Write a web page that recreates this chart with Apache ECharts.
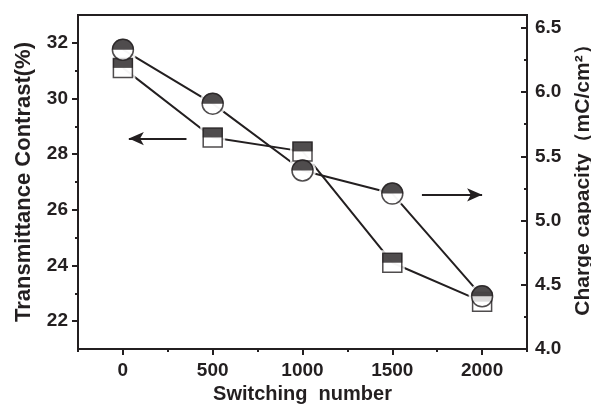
<!DOCTYPE html>
<html>
<head>
<meta charset="utf-8">
<script src="https://cdn.jsdelivr.net/npm/echarts@6/dist/echarts.min.js"></script>
<style>
  html, body { margin: 0; padding: 0; background: #fff; }
  #chart { width: 591px; height: 405px; }
</style>
</head>
<body>
<div id="chart"></div>
<script>
// Switching cycles and the two measured quantities
const switching = [0, 500, 1000, 1500, 2000];
const contrast = [31.1, 28.6, 28.1, 24.1, 22.7];      // Transmittance Contrast (%)
const capacity = [6.33, 5.91, 5.39, 5.21, 4.41];      // Charge capacity (mC/cm2)

// Tick values
const xTicks = [0, 500, 1000, 1500, 2000];
const xMinorTicks = [-250, 250, 750, 1250, 1750, 2250];
const contrastTicks = [22, 24, 26, 28, 30, 32];
const contrastMinorTicks = [23, 25, 27, 29, 31];
const capacityTicks = [4.0, 4.5, 5.0, 5.5, 6.0, 6.5];
const capacityMinorTicks = [4.25, 4.75, 5.25, 5.75, 6.25];

// Arrows telling which axis each curve belongs to (data space)
const contrastArrow = [[33, 28.56], [354, 28.56]];
const capacityArrow = [[1665, 5.2], [2000, 5.2]];

const INK = '#231f20';
const FONT = 'Liberation Sans';
const SQ = 19, CI = 21;

const contrastPts = switching.map((x, i) => [x, contrast[i]]);
const capacityPts = switching.map((x, i) => [x, capacity[i]]);

const tickFont = { color: INK, fontFamily: FONT, fontWeight: 'bold', fontSize: 19 };
const titleFont = { color: INK, fontFamily: FONT, fontWeight: 'bold', fontSize: 22 };
const axisLine = { show: true, onZero: false, lineStyle: { color: INK, width: 2 } };

const chart = echarts.init(document.getElementById('chart'), null, { renderer: 'canvas' });

chart.setOption({
  animation: false,
  backgroundColor: '#fff',
  grid: {
    left: 78, right: 64, top: 15, bottom: 56,
    outerBoundsMode: 'none', containLabel: false,
    show: true, borderColor: INK, borderWidth: 2, backgroundColor: 'transparent'
  },
  xAxis: [
    {
      type: 'value', min: -250, max: 2250, position: 'bottom',
      name: 'Switching  number', nameLocation: 'middle', nameGap: 34,
      nameTextStyle: Object.assign({}, titleFont, { fontSize: 20 }),
      axisLine: axisLine,
      axisTick: { customValues: xTicks, length: 6, lineStyle: { color: INK, width: 2 } },
      axisLabel: Object.assign({ customValues: xTicks, margin: 12, formatter: v => String(v) }, tickFont),
      splitLine: { show: false }
    },
    {
      type: 'value', min: -250, max: 2250, position: 'bottom',
      axisLine: { show: false, onZero: false },
      axisTick: { customValues: xMinorTicks, length: 3, lineStyle: { color: INK, width: 2 } },
      axisLabel: { show: false },
      splitLine: { show: false }
    }
  ],
  yAxis: [
    {
      type: 'value', min: 21, max: 33, position: 'left',
      name: 'Transmittance Contrast(%)', nameLocation: 'middle', nameGap: 43,
      nameTextStyle: titleFont,
      axisLine: axisLine,
      axisTick: { show: true, customValues: contrastTicks, length: 6, lineStyle: { color: INK, width: 2 } },
      axisLabel: Object.assign({ customValues: contrastTicks, margin: 10 }, tickFont),
      splitLine: { show: false }
    },
    {
      type: 'value', min: 4.0, max: 6.6, position: 'right',
      name: 'Charge capacity（mC/cm²）', nameLocation: 'middle', nameGap: 41,
      nameTextStyle: Object.assign({}, titleFont, { fontSize: 21, padding: [0, 0, 0, 14] }),
      axisLine: axisLine,
      axisTick: { show: true, inside: true, customValues: capacityTicks, length: 6, lineStyle: { color: INK, width: 2 } },
      axisLabel: Object.assign({ customValues: capacityTicks, margin: 8, formatter: v => v.toFixed(1) }, tickFont),
      splitLine: { show: false }
    },
    {
      type: 'value', min: 21, max: 33, position: 'left',
      axisLine: { show: false, onZero: false },
      axisTick: { show: true, customValues: contrastMinorTicks, length: 3, lineStyle: { color: INK, width: 2 } },
      axisLabel: { show: false },
      splitLine: { show: false }
    },
    {
      type: 'value', min: 4.0, max: 6.6, position: 'right',
      axisLine: { show: false, onZero: false },
      axisTick: { show: true, inside: true, customValues: capacityMinorTicks, length: 3, lineStyle: { color: INK, width: 2 } },
      axisLabel: { show: false },
      splitLine: { show: false }
    }
  ],
  series: [
    // connecting lines
    {
      type: 'line', xAxisIndex: 0, yAxisIndex: 0, data: contrastPts,
      symbol: 'none', z: 2, lineStyle: { color: INK, width: 2 },
      markLine: {
        silent: true, symbol: ['arrow', 'none'], symbolSize: [10, 15],
        label: { show: false }, lineStyle: { color: INK, width: 2, type: 'solid' },
        data: [[{ coord: contrastArrow[0] }, { coord: contrastArrow[1] }]]
      }
    },
    {
      type: 'line', xAxisIndex: 0, yAxisIndex: 1, data: capacityPts,
      symbol: 'none', z: 2, lineStyle: { color: INK, width: 2 },
      markLine: {
        silent: true, symbol: ['none', 'arrow'], symbolSize: [10, 15],
        label: { show: false }, lineStyle: { color: INK, width: 2, type: 'solid' },
        data: [[{ coord: capacityArrow[0] }, { coord: capacityArrow[1] }]]
      }
    },
    // white halos leaving a small gap between line ends and markers
    {
      type: 'scatter', xAxisIndex: 0, yAxisIndex: 0, data: contrastPts, z: 3, silent: true,
      symbol: 'rect', symbolSize: SQ + 6, itemStyle: { color: '#fff' }
    },
    {
      type: 'scatter', xAxisIndex: 0, yAxisIndex: 1, data: capacityPts, z: 3, silent: true,
      symbol: 'circle', symbolSize: CI + 6, itemStyle: { color: '#fff' }
    },
    // half-filled squares
    {
      type: 'scatter', xAxisIndex: 0, yAxisIndex: 0, data: contrastPts, z: 4, silent: true,
      symbol: 'rect', symbolSize: SQ, itemStyle: { color: '#fff', borderColor: INK, borderWidth: 1.5 }
    },
    {
      type: 'scatter', xAxisIndex: 0, yAxisIndex: 0, data: contrastPts, z: 5, silent: true,
      symbol: 'rect', symbolSize: [SQ + 1, SQ / 2], symbolOffset: [0, -SQ / 4], itemStyle: { color: INK }
    },
    // half-filled circles
    {
      type: 'scatter', xAxisIndex: 0, yAxisIndex: 1, data: capacityPts, z: 6, silent: true,
      symbol: 'circle', symbolSize: CI, itemStyle: { color: '#fff', borderColor: INK, borderWidth: 1.5 }
    },
    {
      type: 'scatter', xAxisIndex: 0, yAxisIndex: 1, data: capacityPts, z: 7, silent: true,
      symbol: 'path://M0,50 A50,50 0 0 1 100,50 Z', symbolKeepAspect: false,
      symbolSize: [CI + 1, (CI + 1) / 2], symbolOffset: [0, -(CI + 1) / 4], itemStyle: { color: INK }
    }
  ]
});
</script>
</body>
</html>
